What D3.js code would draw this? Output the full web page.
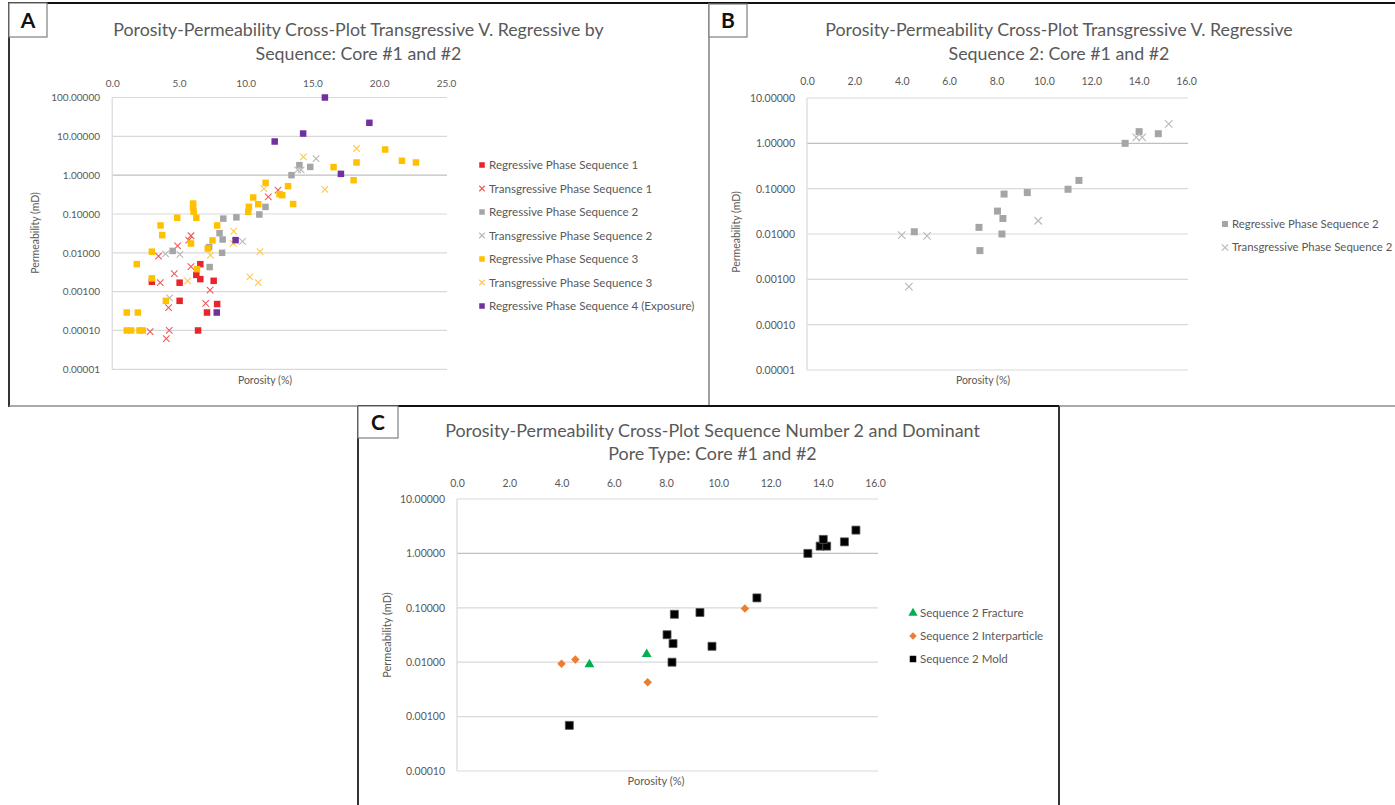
<!DOCTYPE html>
<html>
<head>
<meta charset="utf-8">
<script src="https://cdn.jsdelivr.net/npm/d3@7"></script>
<style>
  body { margin: 0; background: #fff; }
  svg { display: block; }
  text { font-family: Lato, "Open Sans", sans-serif; }
</style>
</head>
<body>
<svg id="fig" width="1395" height="805"></svg>
<script>
// ---------------- data: [porosity %, permeability mD] ----------------
// Sequence 1
const regressiveSeq1 = [[6.6,0.0051],[6.3,0.0027],[6.6,0.0021],[5.05,0.0017],[7.6,0.0019],[2.97,0.0018],
  [5.05,0.00058],[7.86,0.00048],[7.1,0.00029],[6.43,0.0001]];
const transgressiveSeq1 = [[5.9,0.0275],[5.73,0.0213],[4.9,0.0151],[3.47,0.0082],[5.9,0.0044],[4.65,0.0029],
  [3.6,0.0017],[7.33,0.0011],[7.0,0.0005],[4.22,0.00039],[2.84,0.000093],[4.27,0.0001],[4.05,0.000062],
  [11.69,0.277],[12.42,0.41]];
// Sequence 2 (shared by all three plots)
const regressiveSeq2 = [[4.53,0.0112],[7.26,0.0140],[7.30,0.0043],[8.32,0.076],[9.30,0.082],[8.04,0.032],
  [8.27,0.022],[8.23,0.0100],[11.02,0.097],[11.48,0.152],[13.43,1.0],[14.02,1.81],[14.83,1.63]];
const transgressiveSeq2 = [[4.0,0.0094],[4.30,0.00069],[5.07,0.0091],[9.76,0.0196],[13.9,1.36],[14.15,1.36],[15.27,2.68]];
// Sequence 3
const regressiveSeq3 = [[6.06,0.186],[6.06,0.147],[6.1,0.114],[6.3,0.080],[4.87,0.080],[3.62,0.0506],[3.75,0.0285],
  [5.9,0.0174],[2.97,0.0107],[1.84,0.0051],[6.35,0.0038],[2.97,0.0022],[4.02,0.00058],[1.09,0.00029],[1.92,0.00029],
  [1.09,0.0001],[1.42,0.0001],[2.04,0.0001],[2.29,0.0001],[7.16,0.0129],[7.51,0.0208],[7.86,0.0506],[10.19,0.114],
  [10.24,0.153],[10.56,0.266],[10.94,0.179],[11.49,0.635],[12.54,0.324],[12.74,0.305],[13.17,0.52],[13.55,0.18],
  [16.58,1.61],[18.3,2.12],[18.08,0.74],[20.44,4.58],[21.7,2.34],[22.75,2.12]];
const transgressiveSeq3 = [[7.36,0.0087],[5.65,0.0019],[9.1,0.036],[9.06,0.0174],[11.07,0.0107],[10.31,0.0024],
  [10.94,0.0017],[11.36,0.45],[14.32,2.97],[15.93,0.43],[18.3,4.86]];
// Sequence 4 (exposure)
const regressiveSeq4 = [[7.83,0.00029],[9.24,0.0212],[12.17,7.36],[14.3,11.8],[15.93,100],[19.26,22.3],[17.13,1.08]];
// Sequence 2 split by dominant pore type
const seq2Fracture = [[5.07,0.0091],[7.26,0.0140]];
const seq2Interparticle = [[4.0,0.0094],[4.53,0.0112],[7.30,0.0043],[11.02,0.097]];
const seq2Mold = [[4.30,0.00069],[8.32,0.076],[9.30,0.082],[8.04,0.032],[8.27,0.022],[9.76,0.0196],[8.23,0.0100],
  [11.48,0.152],[13.43,1.0],[13.9,1.36],[14.15,1.36],[14.02,1.81],[14.83,1.63],[15.27,2.68]];

// axis ticks
const porosityTicksA = [0,5,10,15,20,25];
const porosityTicksBC = [0,2,4,6,8,10,12,14,16];
const permTicksA = [1e-5,1e-4,1e-3,1e-2,1e-1,1,10,100];
const permTicksB = [1e-5,1e-4,1e-3,1e-2,1e-1,1,10];
const permTicksC = [1e-4,1e-3,1e-2,1e-1,1,10];

// ---------------- drawing ----------------
const svg = d3.select('#fig');
const TXT = '#595959';

const marker = {
  square: s => d3.symbol(d3.symbolSquare, s * s)(),
  triangle: s => d3.symbol(d3.symbolTriangle, s * s * 0.75)(),
  diamond: s => `M0,${-s/2}L${s/2},0L0,${s/2}L${-s/2},0Z`,
  x: s => `M${-s/2},${-s/2}L${s/2},${s/2}M${-s/2},${s/2}L${s/2},${-s/2}`
};

function fitTitle(g, lines, cx, y1, lineGap, width1) {
  const t = g.append('text').attr('x', cx).attr('y', y1).attr('text-anchor', 'middle')
    .attr('fill', TXT).attr('font-size', 16).text(lines[0]);
  const w = t.node().getComputedTextLength();
  const fs = 16 * width1 / w;
  t.attr('font-size', fs);
  g.append('text').attr('x', cx).attr('y', y1 + lineGap).attr('text-anchor', 'middle')
    .attr('fill', TXT).attr('font-size', fs).text(lines[1]);
}

function scatterPanel(o) {
  const g = svg.append('g');
  const x = d3.scaleLinear().domain(o.xDomain).range([o.left, o.right]);
  const y = d3.scaleLog().domain(o.yDomain).range([o.bottom, o.top]);

  // horizontal gridlines; the 1.0 line doubles as the category axis
  g.append('g').selectAll('line').data(o.yTicks).join('line')
    .attr('x1', o.left).attr('x2', o.gridRight)
    .attr('y1', d => y(d)).attr('y2', d => y(d))
    .attr('stroke', d => d === 1 ? '#bfbfbf' : '#d9d9d9').attr('stroke-width', 1.2);
  g.append('line').attr('x1', o.left).attr('x2', o.left).attr('y1', o.top).attr('y2', o.bottom)
    .attr('stroke', '#d9d9d9').attr('stroke-width', 1.2);

  // porosity labels along the top
  const xa = d3.axisTop(x).tickValues(o.xTicks).tickFormat(d3.format('.1f')).tickSize(0).tickPadding(0);
  const gx = g.append('g').attr('transform', `translate(0,${o.xLabelY})`).call(xa);
  gx.select('.domain').remove();
  gx.selectAll('text').attr('fill', TXT).attr('font-size', o.tickFont).attr('font-family', null);

  // permeability labels
  const ya = d3.axisLeft(y).tickValues(o.yTicks).tickFormat(d3.format('.5f')).tickSize(0).tickPadding(0);
  const gy = g.append('g').attr('transform', `translate(${o.yLabelX},0)`).call(ya);
  gy.select('.domain').remove();
  gy.selectAll('text').attr('fill', TXT).attr('font-size', o.tickFont).attr('font-family', null);

  // axis titles
  g.append('text').attr('transform', `translate(${o.yTitle[0]},${o.yTitle[1]}) rotate(-90)`)
    .attr('text-anchor', 'middle').attr('dy', '0.35em').attr('fill', TXT).attr('font-size', o.axisFont)
    .text('Permeability (mD)');
  g.append('text').attr('x', o.xTitle[0]).attr('y', o.xTitle[1]).attr('text-anchor', 'middle')
    .attr('dy', '0.35em').attr('fill', TXT).attr('font-size', o.axisFont).text('Porosity (%)');

  // title
  fitTitle(g, o.title, o.titleX, o.titleY, o.titleGap, o.titleWidth);

  // series
  o.series.forEach(s => {
    const sel = g.append('g').selectAll('path').data(s.data).join('path')
      .attr('transform', d => `translate(${x(d[0])},${y(d[1])})`)
      .attr('d', marker[s.shape](s.size));
    if (s.shape === 'x') sel.attr('fill', 'none').attr('stroke', s.color).attr('stroke-width', 1.1);
    else sel.attr('fill', s.color).attr('stroke', s.edge || 'none').attr('stroke-width', s.edge ? 0.8 : 0);
  });

  // legend
  const lg = g.append('g');
  o.series.filter(s => s.name).forEach((s, i) => {
    const ly = o.legend.y + i * o.legend.dy;
    const m = lg.append('path').attr('transform', `translate(${o.legend.x},${ly})`)
      .attr('d', marker[s.shape](s.legendSize || s.size * 0.85));
    if (s.shape === 'x') m.attr('fill', 'none').attr('stroke', s.color).attr('stroke-width', 1.1);
    else m.attr('fill', s.color);
    lg.append('text').attr('x', o.legend.x + 7).attr('y', ly).attr('dy', '0.35em')
      .attr('fill', TXT).attr('font-size', o.legendFont).text(s.name);
  });
}

// Panel A
scatterPanel({
  left: 112.2, right: 446, gridRight: 447, top: 97.5, bottom: 369.3,
  xDomain: [0, 25], yDomain: [1e-5, 100], xTicks: porosityTicksA, yTicks: permTicksA,
  xLabelY: 86.5, yLabelX: 100, tickFont: 10, axisFont: 10.5, legendFont: 11.6,
  yTitle: [35, 233], xTitle: [265, 380],
  title: ['Porosity-Permeability Cross-Plot Transgressive V. Regressive by', 'Sequence: Core #1 and #2'],
  titleX: 358.5, titleY: 36, titleGap: 24, titleWidth: 491,
  legend: { x: 482, y: 165, dy: 23.5 },
  series: [
    { name: 'Regressive Phase Sequence 1', data: regressiveSeq1, shape: 'square', size: 6.5, color: '#e8242c' },
    { name: 'Transgressive Phase Sequence 1', data: transgressiveSeq1, shape: 'x', size: 6.5, color: '#f25a5a' },
    { name: 'Regressive Phase Sequence 2', data: regressiveSeq2, shape: 'square', size: 6.5, color: '#a5a5a5' },
    { name: 'Transgressive Phase Sequence 2', data: transgressiveSeq2, shape: 'x', size: 6.5, color: '#b8b8b8' },
    { name: 'Regressive Phase Sequence 3', data: regressiveSeq3, shape: 'square', size: 6.5, color: '#ffc000' },
    { name: 'Transgressive Phase Sequence 3', data: transgressiveSeq3, shape: 'x', size: 6.5, color: '#ffc84a' },
    { name: 'Regressive Phase Sequence 4 (Exposure)', data: regressiveSeq4, shape: 'square', size: 6.5, color: '#7030a0' }
  ]
});

// Panel B
scatterPanel({
  left: 807, right: 1186, gridRight: 1188, top: 98, bottom: 370,
  xDomain: [0, 16], yDomain: [1e-5, 10], xTicks: porosityTicksBC, yTicks: permTicksB,
  xLabelY: 85, yLabelX: 795, tickFont: 10.5, axisFont: 10.5, legendFont: 11.4,
  yTitle: [736, 232], xTitle: [983, 380],
  title: ['Porosity-Permeability Cross-Plot Transgressive V. Regressive', 'Sequence 2: Core #1 and #2'],
  titleX: 1059, titleY: 36, titleGap: 24, titleWidth: 468,
  legend: { x: 1225, y: 224, dy: 23.5 },
  series: [
    { name: 'Regressive Phase Sequence 2', data: regressiveSeq2, shape: 'square', size: 7, color: '#a5a5a5' },
    { name: 'Transgressive Phase Sequence 2', data: transgressiveSeq2, shape: 'x', size: 7.5, color: '#b8b8b8' }
  ]
});

// Panel C
scatterPanel({
  left: 457, right: 875, gridRight: 878, top: 499, bottom: 771,
  xDomain: [0, 16], yDomain: [1e-4, 10], xTicks: porosityTicksBC, yTicks: permTicksC,
  xLabelY: 486.5, yLabelX: 445, tickFont: 10.5, axisFont: 11, legendFont: 11.5,
  yTitle: [387, 635], xTitle: [656, 781],
  title: ['Porosity-Permeability Cross-Plot Sequence Number 2 and Dominant', 'Pore Type: Core #1 and #2'],
  titleX: 712.5, titleY: 437, titleGap: 23, titleWidth: 535,
  legend: { x: 913, y: 613, dy: 23 },
  series: [
    { name: 'Sequence 2 Fracture', data: seq2Fracture, shape: 'triangle', size: 7.5, color: '#00b050', legendSize: 7 },
    { name: 'Sequence 2 Interparticle', data: seq2Interparticle, shape: 'diamond', size: 8.5, color: '#ed7d31', legendSize: 7.5 },
    { name: 'Sequence 2 Mold', data: seq2Mold, shape: 'square', size: 8, color: '#000000', edge: '#555', legendSize: 6.5 }
  ]
});

// ---------------- panel frames and letters ----------------
const fr = svg.append('g');
function seg(x1, y1, x2, y2, c, w) {
  fr.append('line').attr('x1', x1).attr('y1', y1).attr('x2', x2).attr('y2', y2)
    .attr('stroke', c).attr('stroke-width', w);
}
seg(8, 3, 1395, 3, '#111', 2.2);         // top edge of A and B
seg(9, 3, 9, 407, '#333', 2);            // left of A
seg(9, 406, 358, 406, '#8c8c8c', 1.6);   // bottom of A
seg(709, 3, 709, 406, '#777', 1.4);      // between A and B
seg(1059, 406, 1395, 406, '#8c8c8c', 1.6); // bottom of B
seg(358, 406, 1059, 406, '#111', 2);     // top of C
seg(358, 406, 358, 805, '#333', 2);      // left of C
seg(1059, 406, 1059, 805, '#333', 2);    // right of C

function letterBox(x, y, w, h, letter) {
  fr.append('rect').attr('x', x).attr('y', y).attr('width', w).attr('height', h)
    .attr('fill', '#fff').attr('stroke', '#7f7f7f').attr('stroke-width', 1.2);
  fr.append('text').attr('x', x + w / 2).attr('y', y + h / 2).attr('dy', '0.36em')
    .attr('text-anchor', 'middle').attr('font-family', 'Liberation Sans, Arial, sans-serif')
    .attr('font-weight', 'bold').attr('font-size', 21).attr('fill', '#111').text(letter);
}
letterBox(9, 3, 38, 34, 'A');
letterBox(709, 4, 38, 33, 'B');
letterBox(358, 406, 40, 32, 'C');
</script>
</body>
</html>
